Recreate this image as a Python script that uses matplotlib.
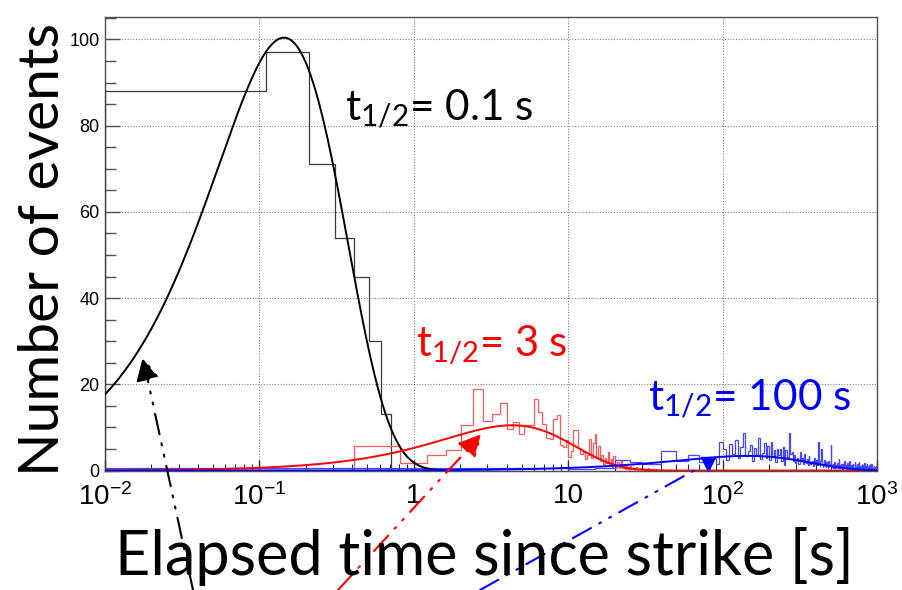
import matplotlib
matplotlib.use('Agg')
import matplotlib.pyplot as plt
import numpy as np
from matplotlib.ticker import FixedLocator, MultipleLocator, NullFormatter

plt.rcParams['mathtext.fontset'] = 'custom'
plt.rcParams['mathtext.rm'] = 'Liberation Sans'

# ── Dados ─────────────────────────────────────────────────────────────────

# histograma t1/2 = 0.1 s (bins lineares de 0.1 s a partir de 0.01 s)
preto_inicio, preto_largura = 0.01, 0.1
preto_contagens = [88, 97, 71, 54, 45, 30, 13]

# histograma t1/2 = 3 s (bins de 0.4 s)
verm_inicio, verm_largura = 0.01, 0.4
verm_contagens = [
    0.0, 5.6, 1.7, 3.7, 4.8, 10.6, 18.8, 11.6, 13.0, 15.7,
    9.7, 11.2, 8.5, 10.5, 10.5, 16.7, 13.6, 10.8, 7.6, 7.2,
    12.0, 12.8, 6.0, 5.4, 7.0, 3.1, 4.6, 9.4, 9.5, 5.3,
    3.9, 4.4, 2.6, 3.5, 7.4, 2.8, 6.5, 8.4, 3.0, 5.6,
    2.2, 3.6, 1.5, 2.9, 1.8, 4.2, 1.4, 2.6, 0.9, 3.3,
    1.0, 0.6, 1.9, 0.7, 1.4, 2.4, 0.5, 1.3, 0.4, 1.0,
    0.3, 0.8, 0.2, 1.1, 0.4, 0.3, 0.7, 0.2, 0.5, 0.9,
    0.2, 0.4, 0.3, 0.6, 0.2, 0.3, 0.5, 0.2, 0.4, 0.2,
    0.3, 0.2, 0.5, 0.2, 0.3, 0.2, 0.2, 0.4, 0.2, 0.2,
    0.3, 0.2, 0.2, 0.3, 0.2, 0.2, 0.2, 0.2, 0.2, 0.2,
]

# histograma t1/2 = 100 s (bins de 5 s)
azul_inicio, azul_largura = 0.01, 5.0
azul_contagens = [
    0.6, 0.6, 0.3, 0.5, 2.5, 2.0, 1.6, 1.6, 4.5, 4.5,
    2.3, 2.3, 3.7, 3.7, 2.0, 2.8, 2.8, 2.8, 1.5, 6.6,
    5.0, 2.4, 6.2, 3.8, 7.1, 2.9, 5.5, 8.7, 3.3, 4.6,
    6.0, 2.2, 5.2, 3.5, 7.6, 2.6, 4.1, 6.4, 3.0, 5.7,
    2.5, 6.6, 3.2, 4.7, 1.9, 5.1, 3.6, 4.9, 2.3, 5.4,
    1.2, 4.8, 3.1, 2.7, 8.6, 3.9, 4.2, 2.1, 3.5, 1.8,
    2.6, 3.0, 1.6, 4.4, 2.4, 2.9, 1.4, 3.8, 2.2, 1.7,
    2.6, 1.3, 3.4, 2.0, 1.5, 2.0, 2.3, 1.1, 2.8, 1.6,
    1.9, 2.5, 1.2, 6.6, 1.8, 1.0, 2.2, 5.0, 1.4, 0.9,
    1.6, 2.4, 1.1, 0.8, 1.9, 1.3, 0.7, 2.1, 1.0, 1.5,
    5.9, 1.2, 0.8, 1.6, 0.6, 1.1, 2.0, 0.7, 1.3, 0.9,
    1.8, 0.5, 1.0, 2.6, 0.6, 1.2, 0.8, 1.5, 0.4, 1.1,
    0.7, 1.4, 0.5, 2.3, 0.9, 0.6, 1.2, 0.4, 1.8, 0.7,
    0.5, 1.0, 2.2, 0.4, 0.8, 0.6, 1.3, 0.3, 0.9, 1.6,
    0.5, 0.7, 0.4, 1.9, 0.6, 0.3, 1.0, 0.5, 0.8, 1.4,
    0.3, 0.6, 2.0, 0.4, 0.7, 0.5, 1.1, 0.3, 0.6, 0.9,
    0.4, 1.3, 0.5, 0.3, 0.8, 1.7, 0.4, 0.6, 0.3, 1.0,
    0.5, 0.7, 1.5, 0.3, 0.4, 0.9, 0.5, 0.3, 1.2, 0.6,
    0.4, 0.8, 0.3, 0.5, 1.4, 0.4, 0.6, 0.3, 0.7, 0.5,
    1.1, 0.3, 0.4, 0.8, 0.5, 0.3, 0.6, 1.0, 0.4, 0.5,
]

# ajustes: meia-vida (s), altura do pico e fim da curva
meias_vidas = [0.1, 3.0, 100.0]
picos = [100.4, 10.5, 3.4]
fim_curva = [1.6, 1000, 1000]
cores = ['black', 'red', 'blue']

rotulos_x = ['$\\mathregular{10^{-2}}$', '$\\mathregular{10^{-1}}$', '1', '10',
             '$\\mathregular{10^{2}}$', '$\\mathregular{10^{3}}$']

# ── Figura ────────────────────────────────────────────────────────────────

fig = plt.figure(figsize=(9.02, 5.90), dpi=100)
ax = fig.add_axes([0.1164, 0.2025, 0.8559, 0.7687])
ax.set_xscale('log')
ax.set_xlim(0.01, 1000)
ax.set_ylim(0, 105.2)


def arestas(inicio, largura, n):
    return inicio + largura * np.arange(n + 1)


ax.stairs(preto_contagens, arestas(preto_inicio, preto_largura, len(preto_contagens)),
          color='#3c3c3c', lw=0.9, zorder=3)
ax.stairs(verm_contagens, arestas(verm_inicio, verm_largura, len(verm_contagens)),
          color='#ff5a5a', lw=0.9, zorder=3)
ax.stairs(azul_contagens, arestas(azul_inicio, azul_largura, len(azul_contagens)),
          color='#4646ff', lw=0.9, zorder=3)

# curvas ajustadas: N * (lambda t) * exp(1 - lambda t)
for tm, pk, fim, cor in zip(meias_vidas, picos, fim_curva, cores):
    lam = np.log(2) / tm
    t = np.logspace(-2, np.log10(fim), 800)
    ax.plot(t, pk * lam * t * np.exp(1 - lam * t), color=cor, lw=1.4, zorder=4)

# eixos estilo ROOT
for s in ax.spines.values():
    s.set_color('#505050')
    s.set_linewidth(1.0)
ax.xaxis.set_major_locator(FixedLocator([0.01, 0.1, 1, 10, 100, 1000]))
ax.set_xticklabels(rotulos_x, fontsize=20, family='Liberation Sans')
ax.xaxis.set_minor_locator(matplotlib.ticker.LogLocator(subs=np.arange(2, 10)))
ax.xaxis.set_minor_formatter(NullFormatter())
ax.yaxis.set_major_locator(MultipleLocator(20))
ax.yaxis.set_minor_locator(MultipleLocator(5))
ax.tick_params(axis='x', which='major', direction='in', length=8, width=1,
               color='#303030', pad=9)
ax.tick_params(axis='x', which='minor', direction='in', length=5, width=0.8,
               color='#303030')
ax.tick_params(axis='y', which='major', direction='in', length=11, width=1,
               color='#505050', pad=4, labelsize=13)
ax.tick_params(axis='y', which='minor', direction='in', length=8, width=1,
               color='#505050')
for lb in ax.get_yticklabels():
    lb.set_family('Liberation Sans')
ax.grid(which='major', color='#808080', linestyle=(0, (1, 1.5)), lw=0.8)

# rótulos dos eixos
fig.text(0.048, 0.577, 'Number of events', rotation=90, ha='center', va='center',
         fontsize=41, family='Lato')
fig.text(0.537, 0.026, 'Elapsed time since strike [s]', ha='center', va='baseline',
         fontsize=44, family='Lato')

# anotações de meia-vida
ax.text(0.311, 0.773, '$\\mathregular{t_{1/2}}$= 0.1 s', transform=ax.transAxes,
        color='black', fontsize=30.5, family='Lato', va='baseline')
ax.text(0.403, 0.252, '$\\mathregular{t_{1/2}}$= 3 s', transform=ax.transAxes,
        color='red', fontsize=30, family='Lato', va='baseline')
ax.text(0.704, 0.133, '$\\mathregular{t_{1/2}}$= 100 s', transform=ax.transAxes,
        color='blue', fontsize=30.5, family='Lato', va='baseline')

# setas traço-ponto-ponto vindo de baixo
traco = (0, (10, 4.5, 1, 4.5, 1, 4.5))
setas = [
    ((0.0176, 26.3), (193 / 902, 0.0), 'black', '-|>'),
    ((2.77, 8.5), (338 / 902, 0.0), 'red', '-|>'),
    ((71.5, 0.8), (480 / 902, 0.0), 'blue', '-'),
]
for ponta, base, cor, estilo in setas:
    ax.annotate('', xy=ponta, xycoords='data', xytext=base,
                textcoords='figure fraction', annotation_clip=False,
                arrowprops=dict(arrowstyle=estilo + ',head_length=0.9,head_width=0.45'
                                if estilo != '-' else '-',
                                color=cor, lw=1.5, linestyle=traco,
                                mutation_scale=16, shrinkA=0, shrinkB=0),
                zorder=6)
ax.plot([80], [1.6], marker='v', color='blue', markersize=10, zorder=6)

fig.savefig('out.png', dpi=100)
